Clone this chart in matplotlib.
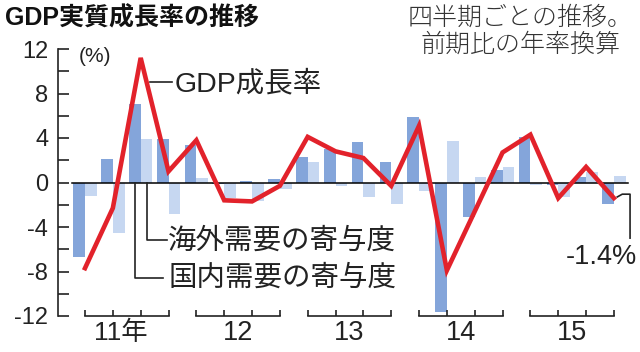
import matplotlib
matplotlib.use("Agg")
import matplotlib.pyplot as plt
from matplotlib import font_manager as fm
from matplotlib.font_manager import FontProperties
import numpy as np

# ---------------- data ----------------
quarters = ["11Q1", "11Q2", "11Q3", "11Q4",
            "12Q1", "12Q2", "12Q3", "12Q4",
            "13Q1", "13Q2", "13Q3", "13Q4",
            "14Q1", "14Q2", "14Q3", "14Q4",
            "15Q1", "15Q2", "15Q3", "15Q4"]
year_labels = ["11年", "12", "13", "14", "15"]
gdp_growth = [-7.7, -2.3, 11.2, 1.0, 3.8, -1.6, -1.7, -0.3, 4.1, 2.8,
              2.2, -0.3, 5.1, -7.9, -2.6, 2.7, 4.3, -1.4, 1.4, -1.4]
domestic = [-6.7, 2.1, 7.1, 3.9, 3.4, -0.1, 0.1, 0.3, 2.3, 3.0,
            3.6, 1.8, 5.9, -11.6, -3.1, 1.1, 4.1, -0.2, 0.5, -1.9]
external = [-1.2, -4.5, 3.9, -2.8, 0.4, -1.4, -1.7, -0.6, 1.8, -0.3,
            -1.3, -1.9, -0.8, 3.7, 0.5, 1.4, -0.2, -1.3, 0.9, 0.6]
yticks = [-12, -8, -4, 0, 4, 8, 12]

# ---------------- fonts ----------------
names = {f.name for f in fm.fontManager.ttflist}
JP = "Noto Sans CJK JP"
if "Liberation Sans Narrow" in names:
    narrow = FontProperties(family="Liberation Sans Narrow")
else:
    narrow = FontProperties(family="Liberation Sans")
plt.rcParams["font.family"] = ["Liberation Sans", JP, "DejaVu Sans"]

RED = "#e2222b"
DARK = "#84a5da"
LIGHT = "#c6d7f1"
INK = "#222222"

fig = plt.figure(figsize=(6.4, 3.52), dpi=100)
ax = fig.add_axes([58 / 640, 36 / 352, (632 - 58) / 640, (316 - 49) / 352])
x = np.arange(len(quarters))
w = 0.42

ax.bar(x - w, domestic, width=w, align="edge", color=DARK, zorder=2)
ax.bar(x, external, width=w, align="edge", color=LIGHT, zorder=2)
ax.plot([-0.47, 19.5], [0, 0], color="black", lw=1.1, zorder=3)
ax.plot(x, gdp_growth, color=RED, lw=3.3, zorder=5, solid_joinstyle="miter")

ax.set_xlim(-0.97, 19.65)
ax.set_ylim(-12, 12)
for s in ["top", "right", "bottom"]:
    ax.spines[s].set_visible(False)
ax.spines["left"].set_color(INK)
ax.spines["left"].set_linewidth(1.2)
ax.set_xticks([])
ax.set_yticks(yticks)
ax.set_yticks(np.arange(-12, 13, 2), minor=True)
ax.set_yticklabels([str(v) for v in yticks])
ax.tick_params(axis="y", which="both", direction="in", length=8, width=1.2,
               colors=INK, pad=7, labelsize=17)

# year brackets
for k, lab in enumerate(year_labels):
    xs = x[4 * k:4 * k + 4]
    ax.plot([xs[0], xs[-1]], [-12, -12], color=INK, lw=1.2, clip_on=False)
    ax.vlines(xs, -12, -11.45, color=INK, lw=1.2, clip_on=False)
    cx = (xs[1] + xs[2]) / 2 - (0.2 if k == 0 else 0)
    if k == 0:
        ax.text(cx, -13.5, lab, ha="center", va="center", fontsize=19,
                family=[narrow.get_name(), JP], color=INK)
    else:
        ax.text(cx, -13.5, lab, ha="center", va="center", fontproperties=narrow,
                fontsize=19.5, color=INK)

# (%)
ax.text(0.36, 11.3, "(%)", ha="center", va="center", fontsize=15,
        fontproperties=narrow, color=INK, clip_on=False)

# GDP label
ax.plot([2.33, 3.13], [9.07, 9.07], color=INK, lw=1.2)
ax.text(3.23, 8.85, "GDP成長率", ha="left", va="center", fontsize=20.5, color=INK)

# bar legends
ax.plot([2.21, 2.21, 2.93], [0, -5.16, -5.16], color=INK, lw=1.2, zorder=4)
ax.plot([1.79, 1.79, 2.81], [0, -8.56, -8.56], color=INK, lw=1.2, zorder=4)
ax.text(2.99, -5.2, "海外需要の寄与度", ha="left", va="center", fontsize=20.5,
        family=JP, color=INK)
ax.text(2.99, -8.6, "国内需要の寄与度", ha="left", va="center", fontsize=20.5,
        family=JP, color=INK)

# -1.4% label
ax.plot([19.12, 19.3, 19.58, 19.58], [-1.3, -1.05, -1.05, -5.0], color=INK,
        lw=1.2, clip_on=False, zorder=4)
ax.text(19.84, -6.7, "-1.4%", ha="right", va="center", fontproperties=narrow,
        fontsize=19.5, color=INK, clip_on=False)

# titles
fig.text(5 / 640, 1 - 18 / 352, "GDP実質成長率の推移", ha="left", va="center",
         fontsize=18, fontweight="bold", color="#111111",
         family=["Liberation Sans", JP])
fig.text(520 / 640, 1 - 31 / 352, "四半期ごとの推移。\n前期比の年率換算", ha="center",
         va="center", fontsize=18, family=JP, color="#333333", linespacing=1.0,
         fontweight="light")

fig.savefig("out.png", dpi=100)
